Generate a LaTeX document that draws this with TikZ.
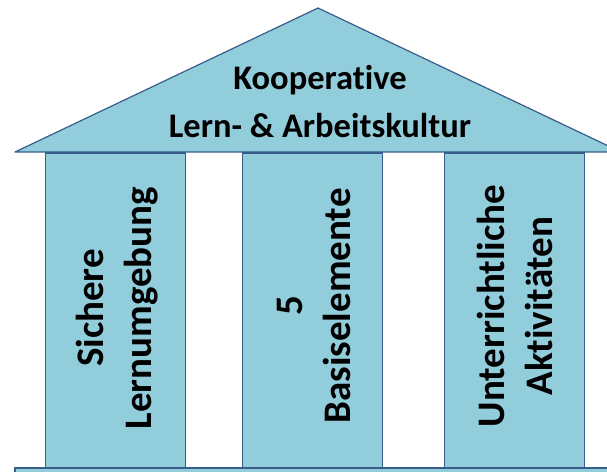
\documentclass[tikz,border=0pt]{standalone}
\usepackage{fontspec}
\setmainfont{Carlito}[Ligatures=NoCommon]
\definecolor{shapefill}{RGB}{146,205,220}
\definecolor{shapeline}{RGB}{56,93,138}
\tikzset{
  part/.style={fill=shapefill, draw=shapeline, line width=1.2pt},
  pillar/.style={part, rectangle, minimum width=140pt, minimum height=315pt, inner sep=0pt},
  rooftext/.style={font=\bfseries\fontsize{34.5}{48}\selectfont, align=center, text=black},
  pillartext/.style={font=\bfseries\fontsize{39}{48}\selectfont, align=center, text=black, rotate=90}
}
\begin{document}
\begin{tikzpicture}[x=1pt,y=1pt]
\useasboundingbox (0,0) rectangle (607,471);
\clip (0,0) rectangle (607,471);
% pillars
\node[pillar] (p1) at (115.5,160.5) {};
\node[pillar] (p2) at (312.5,160.5) {};
\node[pillar] (p3) at (514.5,160.5) {};
\node[pillartext] (t1) at (117,163) {Sichere\\Lernumgebung};
\node[pillartext] (t2) at (314,165) {5\\Basiselemente};
\node[pillartext] (t3) at (515,165) {Unterrichtliche\\Aktivitäten};
% roof
\coordinate (rl) at (15,319);
\coordinate (ra) at (318,463);
\coordinate (rr) at (621,319);
\draw[part, line join=round] (rl) -- (ra) -- (rr) -- cycle;
\node[rooftext] (rt) at (320,369) {Kooperative\\Lern- \& Arbeitskultur};
% base
\coordinate (bl) at (15,3);
\coordinate (br) at (625,-10);
\draw[part] (bl) rectangle (br);
\end{tikzpicture}
\end{document}
